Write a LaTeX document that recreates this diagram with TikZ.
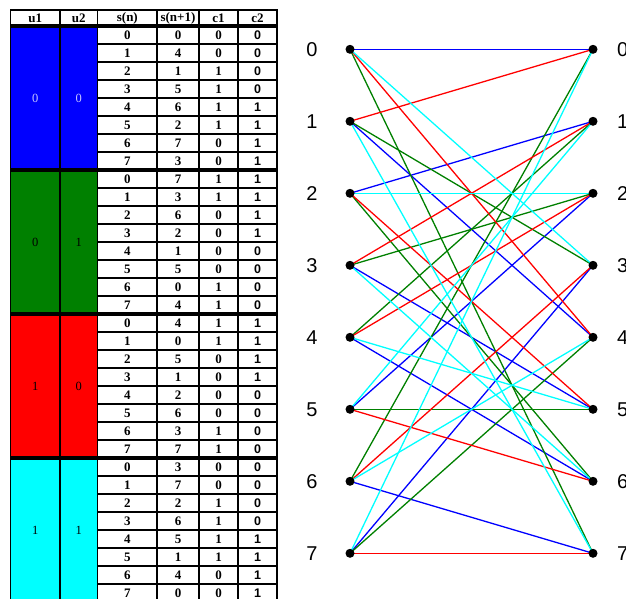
\documentclass[tikz,border=0pt]{standalone}
\usepackage{fontspec}
\setmainfont{Liberation Serif}
\newfontfamily\arialf{Liberation Sans}
\definecolor{cblue}{RGB}{0,0,255}
\definecolor{cgreen}{RGB}{0,128,0}
\definecolor{cred}{RGB}{255,0,0}
\definecolor{ccyan}{RGB}{0,255,255}
\definecolor{ltxt}{RGB}{200,200,255}
\begin{document}
\begin{tikzpicture}[x=1pt,y=-1pt,
  grid/.style={draw=black,line width=1.5pt},
  thick sep/.style={draw=black,line width=3.2pt},
  hdr/.style={font=\fontsize{13}{14}\selectfont\bfseries,inner sep=0pt},
  cellt/.style={font=\fontsize{13}{14}\selectfont\bfseries,inner sep=0pt},
  cellsans/.style={font=\arialf\fontsize{12.5}{14}\selectfont\bfseries,inner sep=0pt},
  utxt/.style={font=\fontsize{12.5}{14}\selectfont,inner sep=0pt},
  dot/.style={circle,fill=black,inner sep=0pt,minimum size=8pt},
  lbl/.style={font=\arialf\fontsize{20}{22}\selectfont,inner sep=0pt},
  edge/.style={line width=1.3pt}]
\useasboundingbox (0,0) rectangle (626,599);
% ---------- table ----------
\def\xa{10.7}\def\xb{60}\def\xc{97.7}\def\xd{157}\def\xe{199}\def\xf{238}\def\xg{277}
% header
\draw[grid] (\xa,10) rectangle (\xg,26);
\draw[line width=2.8pt] (\xa,10) -- (\xg,10);
\foreach \x in {\xb,\xc,\xd,\xe,\xf} \draw[grid] (\x,10) -- (\x,26);
\node[hdr] (h1) at ({(\xa+\xb)/2},18) {u1};
\node[hdr] (h2) at ({(\xb+\xc)/2},18) {u2};
\node[hdr] (h3) at ({(\xc+\xd)/2},18) {s(n)};
\node[hdr] (h4) at ({(\xd+\xe)/2},18) {s(n+1)};
\node[hdr] (h5) at ({(\xe+\xf)/2},18) {c1};
\node[hdr] (h6) at ({(\xf+\xg)/2},18) {c2};
% colour blocks
\foreach \g/\col/\ua/\ub/\tc in {0/cblue/0/0/ltxt,1/cgreen/0/1/black,2/cred/1/0/black,3/ccyan/1/1/black}{
  \fill[\col] (\xa,{26+\g*144}) rectangle (\xc,{26+(\g+1)*144});
  \draw[grid] (\xa,{26+\g*144}) -- (\xa,{26+(\g+1)*144});
  \draw[grid] (\xb,{26+\g*144}) -- (\xb,{26+(\g+1)*144});
  \node[utxt,text=\tc] (ua\g) at ({(\xa+\xb)/2},{26+\g*144+72}) {\ua};
  \node[utxt,text=\tc] (ub\g) at ({(\xb+\xc)/2},{26+\g*144+72}) {\ub};
}
% rows
\foreach \r/\s/\t/\ca [count=\k from 0] in {
0/0/0/0,1/4/0/0,2/1/1/0,3/5/1/0,4/6/1/1,5/2/1/1,6/7/0/1,7/3/0/1,
0/7/1/1,1/3/1/1,2/6/0/1,3/2/0/1,4/1/0/0,5/5/0/0,6/0/1/0,7/4/1/0,
0/4/1/1,1/0/1/1,2/5/0/1,3/1/0/1,4/2/0/0,5/6/0/0,6/3/1/0,7/7/1/0,
0/3/0/0,1/7/0/0,2/2/1/0,3/6/1/0,4/5/1/1,5/1/1/1,6/4/0/1,7/0/0/1}{
  \draw[grid] (\xc,{26+\k*18}) rectangle (\xg,{26+(\k+1)*18});
  \foreach \x in {\xd,\xe,\xf} \draw[grid] (\x,{26+\k*18}) -- (\x,{26+(\k+1)*18});
  \node[cellt] (sa\k) at ({(\xc+\xd)/2},{35+\k*18}) {\r};
  \node[cellt] (sb\k) at ({(\xd+\xe)/2},{35+\k*18}) {\s};
  \node[cellt] (sc\k) at ({(\xe+\xf)/2},{35+\k*18}) {\t};
  \node[cellsans] (sd\k) at ({(\xf+\xg)/2},{35+\k*18}) {\ca};
}
% group separators
\foreach \g in {0,1,2,3} \draw[thick sep] (\xa,{26+\g*144}) -- (\xg,{26+\g*144});
% ---------- trellis ----------
\foreach \i in {0,...,7}{
  \node[dot] (L\i) at (350,{49.3+\i*72}) {};
  \node[dot] (R\i) at (593,{49.3+\i*72}) {};
  \node[lbl] (LL\i) at (312,{49.3+\i*72}) {\i};
  \node[lbl] (RL\i) at (622.7,{49.3+\i*72}) {\i};
}
\foreach \a/\b/\col in {
0/0/cblue,1/4/cblue,2/1/cblue,3/5/cblue,4/6/cblue,5/2/cblue,6/7/cblue,7/3/cblue,
0/7/cgreen,1/3/cgreen,2/6/cgreen,3/2/cgreen,4/1/cgreen,5/5/cgreen,6/0/cgreen,7/4/cgreen,
0/4/cred,1/0/cred,2/5/cred,3/1/cred,4/2/cred,5/6/cred,6/3/cred,7/7/cred,
0/3/ccyan,1/7/ccyan,2/2/ccyan,3/6/ccyan,4/5/ccyan,5/1/ccyan,6/4/ccyan,7/0/ccyan}
  \draw[edge,\col] (L\a.center) -- (R\b.center);
\foreach \i in {0,...,7}{
  \fill (L\i) circle (4.5pt);
  \fill (R\i) circle (4.5pt);
}
\end{tikzpicture}
\end{document}
